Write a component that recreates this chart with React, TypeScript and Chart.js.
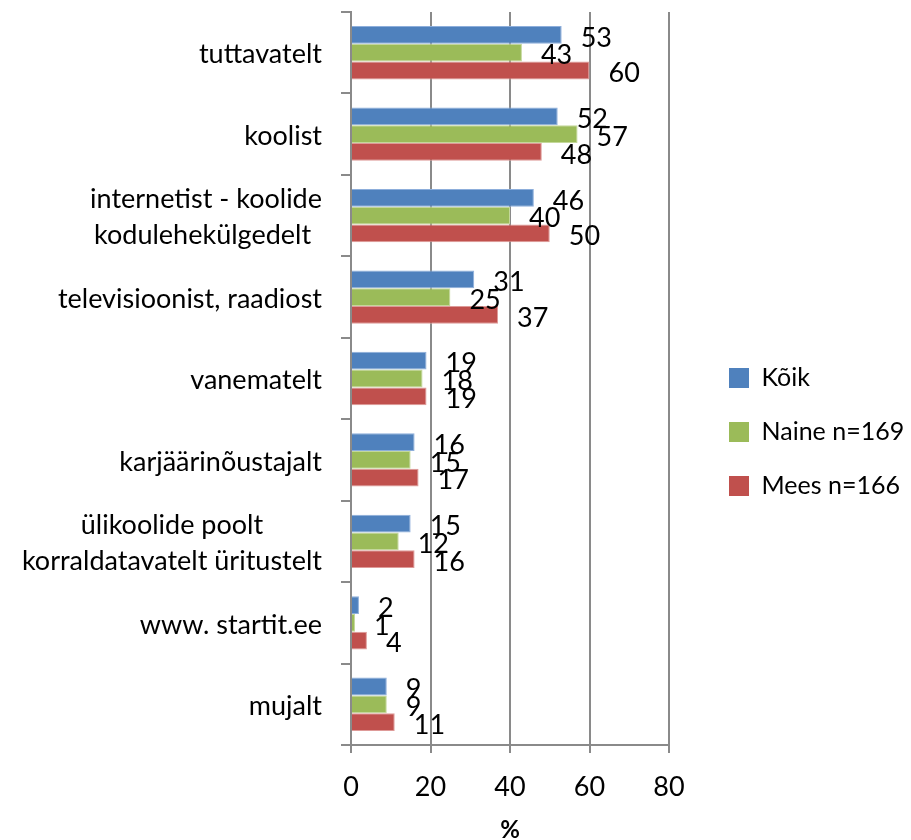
import { useEffect, useRef } from "react";
import { Chart, registerables } from "chart.js";

Chart.register(...registerables);

const categories: string[][] = [
  ["tuttavatelt"],
  ["koolist"],
  ["internetist - koolide", "kodulehekülgedelt "],
  ["televisioonist, raadiost"],
  ["vanematelt"],
  ["karjäärinõustajalt"],
  ["ülikoolide poolt", "korraldatavatelt üritustelt"],
  ["www. startit.ee"],
  ["mujalt"],
];
const seriesNames = ["Kõik", "Naine n=169", "Mees n=166"];
const koik = [53, 52, 46, 31, 19, 16, 15, 2, 9];
const naine = [43, 57, 40, 25, 18, 15, 12, 1, 9];
const mees = [60, 48, 50, 37, 19, 17, 16, 4, 11];
const xTicks = [0, 20, 40, 60, 80];
const axisTitle = "%";

const FONT = "Lato, 'Noto Sans', sans-serif";
const FS = 27;
const LEGEND_FS = 25;
const W = 911;
const H = 840;
const PLOT_LEFT = 351;
const PLOT_RIGHT = 669;
const PLOT_TOP = 12;
const PLOT_BOTTOM = 745;
const GRID = "#8a8a8a";

const catLabelPlugin = {
  id: "catLabels",
  afterDraw(chart: any) {
    const ys = chart.scales.y;
    const ctx = chart.ctx;
    ctx.save();
    ctx.font = `${FS}px ${FONT}`;
    ctx.fillStyle = "#000";
    ctx.textBaseline = "middle";
    ctx.textAlign = "center";
    const right = ys.right - 10 - 19;
    const lh = 36;
    categories.forEach((lines, i) => {
      const yc = ys.getPixelForValue(i);
      const w = Math.max(...lines.map((l) => ctx.measureText(l).width));
      const cx = right - w / 2;
      lines.forEach((l, j) => {
        ctx.fillText(l, cx, yc + 2 + (j - (lines.length - 1) / 2) * lh);
      });
    });
    ctx.restore();
  },
};

const valueLabelPlugin = {
  id: "valueLabels",
  afterDatasetsDraw(chart: any) {
    const ctx = chart.ctx;
    ctx.save();
    ctx.font = `${FS}px ${FONT}`;
    ctx.fillStyle = "#000";
    ctx.textBaseline = "middle";
    ctx.textAlign = "left";
    chart.data.datasets.forEach((ds: any, di: number) => {
      const meta = chart.getDatasetMeta(di);
      meta.data.forEach((bar: any, i: number) => {
        ctx.fillText(String(ds.data[i]), bar.x + 19, bar.y + 3);
      });
    });
    ctx.restore();
  },
};

const legendPatch = {
  id: "legendPatch",
  beforeLayout(chart: any) {
    const lg = chart.legend;
    if (lg && !lg.__patched) {
      const orig = lg.fit.bind(lg);
      lg.fit = function () {
        orig();
        this.width = W - PLOT_RIGHT;
      };
      lg.__patched = true;
    }
  },
  afterLayout(chart: any) {
    const lg = chart.legend;
    if (!lg) return;
    const dx = 729 - (lg.left + 29);
    lg.left += dx;
    lg.right += dx;
    const dy = 6;
    lg.top += dy;
    lg.bottom += dy;
  },
};

export default function App() {
  const ref = useRef<HTMLCanvasElement | null>(null);
  useEffect(() => {
    if (!ref.current) return;
    const font = { family: FONT, size: FS };
    const chart = new Chart(ref.current, {
      type: "bar",
      data: {
        labels: categories,
        datasets: [
          { label: seriesNames[0], data: koik, backgroundColor: "#4F81BD", borderColor: "#8DAEDB" },
          { label: seriesNames[1], data: naine, backgroundColor: "#9BBB59", borderColor: "#C4D89A" },
          { label: seriesNames[2], data: mees, backgroundColor: "#C0504D", borderColor: "#DE9A98" },
        ],
      },
      options: {
        indexAxis: "y",
        animation: false,
        responsive: true,
        maintainAspectRatio: false,
        layout: { padding: { top: PLOT_TOP, left: 0, right: 0, bottom: 0 } },
        datasets: { bar: { categoryPercentage: 0.655, barPercentage: 1, borderWidth: 1 } },
        scales: {
          x: {
            min: xTicks[0],
            max: xTicks[xTicks.length - 1],
            ticks: { stepSize: xTicks[1] - xTicks[0], font, color: "#000", padding: 18 },
            grid: { color: GRID, lineWidth: 2, tickLength: 8, drawTicks: true },
            border: { color: GRID, width: 2 },
            title: {
              display: true,
              text: axisTitle,
              color: "#000",
              font: { family: FONT, size: 24, weight: "bold" },
              padding: { top: 0, bottom: -5 },
            },
            afterFit: (s: any) => {
              s.height = H - PLOT_BOTTOM;
            },
          },
          y: {
            grid: { drawOnChartArea: false, tickLength: 10, color: GRID, lineWidth: 2, offset: true },
            border: { color: GRID, width: 2 },
            ticks: { display: false },
            afterFit: (s: any) => {
              s.width = PLOT_LEFT;
            },
          },
        },
        plugins: {
          legend: {
            position: "right",
            labels: {
              boxWidth: 20,
              boxHeight: 20,
              padding: 29,
              font: { family: FONT, size: LEGEND_FS },
              color: "#000",
              generateLabels: (chart: any) =>
                chart.data.datasets.map((ds: any, i: number) => ({
                  text: ds.label,
                  fillStyle: ds.backgroundColor,
                  strokeStyle: ds.backgroundColor,
                  lineWidth: 0,
                  hidden: false,
                  datasetIndex: i,
                  fontColor: "#000",
                })),
            },
          },
          tooltip: { enabled: false },
        },
      } as any,
      plugins: [catLabelPlugin, valueLabelPlugin, legendPatch],
    });
    return () => chart.destroy();
  }, []);
  return (
    <div style={{ position: "fixed", left: 0, top: 0, width: W, height: H, background: "#fff" }}>
      <canvas ref={ref} />
    </div>
  );
}
